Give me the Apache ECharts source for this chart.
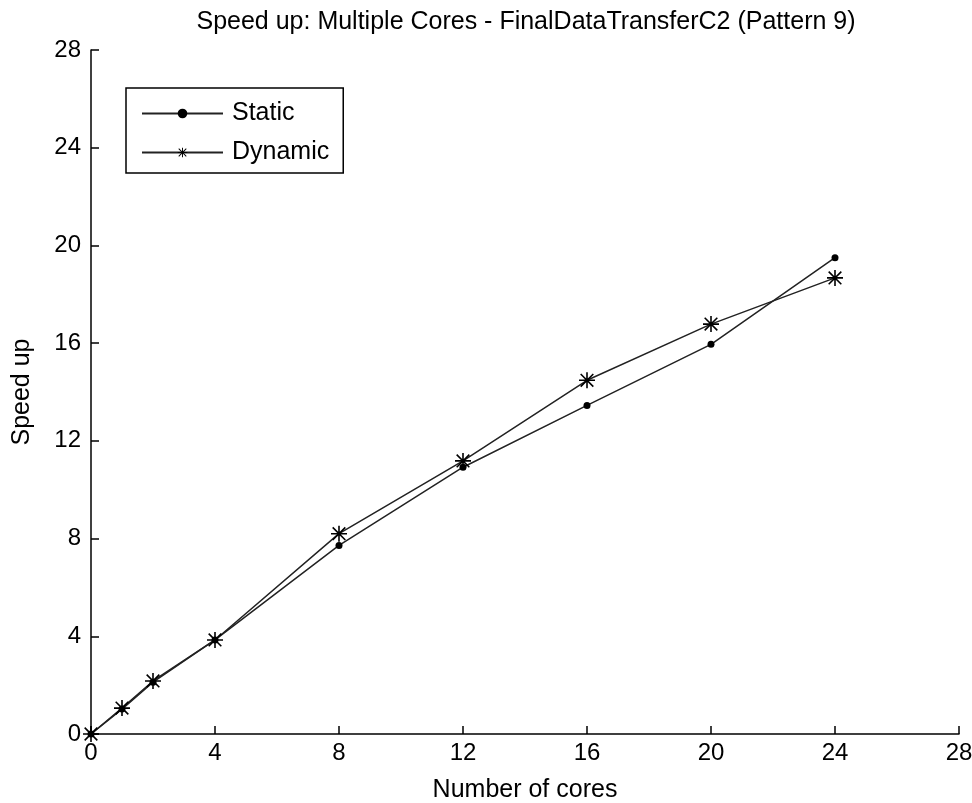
<!DOCTYPE html>
<html>
<head>
<meta charset="utf-8">
<script src="https://cdn.jsdelivr.net/npm/echarts@6/dist/echarts.min.js"></script>
<style>
  html, body { margin: 0; padding: 0; background: #fff; }
  #chart { width: 972px; height: 803px; }
</style>
</head>
<body>
<div id="chart"></div>
<script>
// data
var cores = [0, 1, 2, 4, 8, 12, 16, 20, 24];
var staticSpeedup = [0, 1.02, 2.12, 3.85, 7.72, 10.92, 13.45, 15.95, 19.5];
var dynamicSpeedup = [0, 1.06, 2.17, 3.85, 8.2, 11.18, 14.48, 16.78, 18.67];
var axisTicks = [0, 4, 8, 12, 16, 20, 24, 28];

var FONT = '"Liberation Sans", Arial, sans-serif';

// asterisk marker built from thin bars
var STAR = 'path://M9 0L11 0L11 20L9 20Z M0 9L20 9L20 11L0 11Z ' +
           'M1.4 2.8L2.8 1.4L18.6 17.2L17.2 18.6Z M17.2 1.4L18.6 2.8L2.8 18.6L1.4 17.2Z';

function pairs(xs, ys) {
    return xs.map(function(x, i) { return [x, ys[i]]; });
}

var chart = echarts.init(document.getElementById('chart'));

var axisCommon = {
    type: 'value',
    min: axisTicks[0],
    max: axisTicks[axisTicks.length - 1],
    interval: 4,
    axisLine: { show: true, onZero: false, lineStyle: { color: '#000', width: 1.5 } },
    axisTick: { show: true, inside: true, length: 8, lineStyle: { color: '#000', width: 1.5 } },
    axisLabel: { color: '#000', fontSize: 24, fontFamily: FONT },
    splitLine: { show: false },
    nameTextStyle: { color: '#000', fontSize: 25, fontFamily: FONT }
};

var option = {
    backgroundColor: '#fff',
    animation: false,
    title: {
        text: 'Speed up: Multiple Cores - FinalDataTransferC2 (Pattern 9)',
        left: 521,
        textAlign: 'center',
        top: 5,
        textStyle: { color: '#000', fontSize: 25, fontWeight: 'normal', fontFamily: FONT }
    },
    grid: { left: 91, right: 13, top: 50, bottom: 69, outerBoundsMode: 'none' },
    legend: {
        left: 126,
        top: 88,
        orient: 'vertical',
        borderColor: '#000',
        borderWidth: 1.5,
        padding: [13, 14, 8, 15],
        itemWidth: 81,
        itemHeight: 12,
        itemGap: 14,
        textStyle: { color: '#000', fontSize: 25, fontFamily: FONT, padding: [0, 0, 0, 4] },
        data: ['Static', 'Dynamic']
    },
    xAxis: Object.assign({}, axisCommon, {
        name: 'Number of cores',
        nameLocation: 'middle',
        nameGap: 44,
        axisLabel: Object.assign({}, axisCommon.axisLabel, { margin: 7 })
    }),
    yAxis: Object.assign({}, axisCommon, {
        name: 'Speed up',
        nameLocation: 'middle',
        nameGap: 56,
        axisLabel: Object.assign({}, axisCommon.axisLabel, { margin: 10 })
    }),
    series: [{
        name: 'Static',
        type: 'line',
        data: pairs(cores, staticSpeedup),
        symbol: 'circle',
        symbolSize: 7,
        lineStyle: { color: '#222', width: 1.5 },
        itemStyle: { color: '#000' }
    }, {
        name: 'Dynamic',
        type: 'line',
        data: pairs(cores, dynamicSpeedup),
        symbol: STAR,
        symbolSize: 16,
        lineStyle: { color: '#222', width: 1.5 },
        itemStyle: { color: '#000' }
    }]
};

chart.setOption(option);
</script>
</body>
</html>
